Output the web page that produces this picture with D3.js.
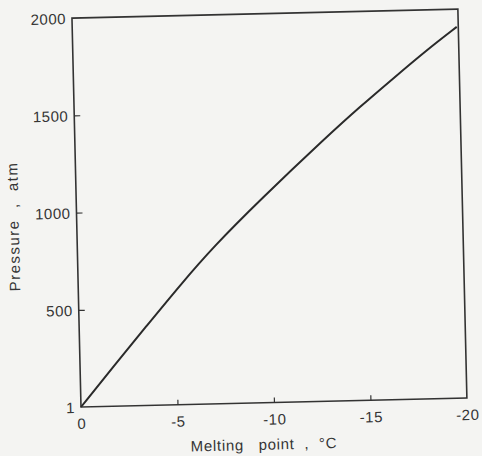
<!DOCTYPE html>
<html>
<head>
<meta charset="utf-8">
<script src="https://cdn.jsdelivr.net/npm/d3@7"></script>
<style>
  body { margin: 0; background: #f4f4f2; }
  svg { display: block; }
  text { font-family: "Liberation Sans", Arial, sans-serif; fill: #353535; }
</style>
</head>
<body>
<div id="chart"></div>
<script>
// Melting point of ice vs pressure
var meltingPoint = [0, -1.72, -3.50, -5.28, -7.05, -9.52, -13.05, -14.81, -16.57, -18.33, -19.92];
var pressure = [1, 205, 410, 615, 808, 1043, 1360, 1510, 1652, 1793, 1909];

var xTicks = [0, -5, -10, -15, -20];
var yTicks = [1, 500, 1000, 1500, 2000];

var svgWidth = 482;
var svgHeight = 456;

var margin = { top: 18, right: 15, bottom: 49, left: 81 };
var width = svgWidth - margin.left - margin.right;
var height = svgHeight - margin.top - margin.bottom;

var svg = d3.select("#chart")
    .append("svg")
    .attr("width", svgWidth)
    .attr("height", svgHeight);

// the scanned page sits a little crooked
var page = svg.append("g")
    .attr("transform", `rotate(-1.33, ${margin.left}, ${margin.top + height})`);

var chartGroup = page.append("g")
    .attr("transform", `translate(${margin.left}, ${margin.top})`);

var xScale = d3.scaleLinear().domain([0, -20]).range([0, width]);
var yScale = d3.scaleLinear().domain([1, 2000]).range([height, 0]);

// frame
chartGroup.append("rect")
    .attr("width", width)
    .attr("height", height)
    .attr("fill", "none")
    .attr("stroke", "#333")
    .attr("stroke-width", 1.6);

// x axis, ticks pointing in
var xAxis = chartGroup.append("g")
    .attr("transform", `translate(0, ${height})`)
    .call(d3.axisBottom(xScale).tickValues(xTicks).tickSize(-5).tickFormat(d => String(d)));
xAxis.select(".domain").remove();
xAxis.selectAll("line")
    .attr("stroke", "#333")
    .attr("stroke-width", 1.2)
    .style("display", d => (d === 0 || d === -20) ? "none" : null);
xAxis.selectAll("text")
    .attr("y", 22)
    .attr("dy", 0)
    .attr("font-size", "15px")
    .attr("letter-spacing", "0.5px")
    .attr("fill", "#353535");

// y axis, ticks pointing in
var yAxis = chartGroup.append("g")
    .call(d3.axisLeft(yScale).tickValues(yTicks).tickSize(-6).tickFormat(d => String(d)));
yAxis.select(".domain").remove();
yAxis.selectAll("line")
    .attr("stroke", "#333")
    .attr("stroke-width", 1.2)
    .style("display", d => (d === 1 || d === 2000) ? "none" : null);
yAxis.selectAll("text")
    .attr("x", -6)
    .attr("dy", "0.36em")
    .attr("font-size", "15px")
    .attr("letter-spacing", "0.5px")
    .attr("fill", "#353535");

// curve
var points = meltingPoint.map((m, i) => [m, pressure[i]]);
var line = d3.line()
    .x(d => xScale(d[0]))
    .y(d => yScale(d[1]))
    .curve(d3.curveBasis);

chartGroup.append("path")
    .datum(points)
    .attr("d", line)
    .attr("fill", "none")
    .attr("stroke", "#2a2a2a")
    .attr("stroke-width", 2);

// axis titles
chartGroup.append("text")
    .attr("x", width / 2 - 11)
    .attr("y", height + 47)
    .attr("text-anchor", "middle")
    .attr("font-size", "15px")
    .attr("letter-spacing", "0.7px")
    .style("white-space", "pre")
    .text("Melting   point  ,  \u00B0C");

chartGroup.append("text")
    .attr("transform", `translate(-58, 207) rotate(-90)`)
    .attr("text-anchor", "middle")
    .attr("font-size", "15px")
    .attr("letter-spacing", "1.5px")
    .style("white-space", "pre")
    .text("Pressure  ,  atm");
</script>
</body>
</html>
